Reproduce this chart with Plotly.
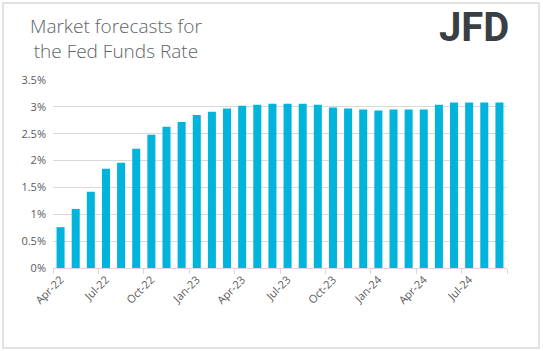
import plotly.graph_objects as go

months = ["Apr-22","May-22","Jun-22","Jul-22","Aug-22","Sep-22","Oct-22","Nov-22","Dec-22",
          "Jan-23","Feb-23","Mar-23","Apr-23","May-23","Jun-23","Jul-23","Aug-23","Sep-23",
          "Oct-23","Nov-23","Dec-23","Jan-24","Feb-24","Mar-24","Apr-24","May-24","Jun-24",
          "Jul-24","Aug-24","Sep-24"]
rates = [0.76, 1.10, 1.42, 1.85, 1.96, 2.22, 2.48, 2.63, 2.72, 2.85, 2.91, 2.97, 3.02, 3.04,
         3.06, 3.06, 3.06, 3.04, 2.99, 2.97, 2.95, 2.93, 2.95, 2.95, 2.95, 3.04, 3.08, 3.08,
         3.08, 3.08]
y_ticks = [0, 0.5, 1, 1.5, 2, 2.5, 3, 3.5]
y_tick_text = ["0%", "0.5%", "1%", "1.5%", "2%", "2.5%", "3%", "3.5%"]

idx = list(range(len(months)))
label_idx = idx[::3]

fig = go.Figure()
fig.add_trace(go.Bar(x=idx, y=rates, marker=dict(color="#00B4DC", line=dict(width=0)),
                     width=0.53, hoverinfo="skip"))
fig.add_trace(go.Scatter(x=[idx[0]], y=[0], xaxis="x2", mode="markers",
                         marker=dict(opacity=0), showlegend=False, hoverinfo="skip"))

fig.update_layout(
    width=543, height=351,
    margin=dict(l=53, r=36, t=80, b=83),
    plot_bgcolor="white", paper_bgcolor="white",
    showlegend=False,
    font=dict(family="Open Sans", color="#595959"),
    xaxis=dict(range=[-0.5, len(months) - 0.5], tickvals=[idx[i] for i in label_idx],
               ticktext=[months[i] for i in label_idx], tickangle=-45,
               tickfont=dict(size=11, color="#595959"),
               showgrid=False, zeroline=False, showline=True, linecolor="#d9d9d9",
               linewidth=1, ticks="", fixedrange=True),
    xaxis2=dict(range=[-0.5, len(months) - 0.5], overlaying="x", side="bottom",
                tickvals=[i - 0.5 for i in label_idx] + [len(months) - 0.5],
                showticklabels=False, ticks="outside", ticklen=5, tickcolor="#d9d9d9",
                showgrid=False, zeroline=False, showline=False, anchor="y"),
    yaxis=dict(range=[0, 3.5], tickvals=y_ticks, ticktext=y_tick_text,
               tickfont=dict(size=11, color="#595959"),
               showgrid=True, gridcolor="#d9d9d9", gridwidth=1, zeroline=False,
               showline=False, ticks="", ticklabelstandoff=6),
    bargap=0.47,
)

fig.add_shape(type="rect", xref="paper", yref="paper",
              x0=(3 - 53) / 454, x1=(539 - 53) / 454,
              y0=-(348 - 268) / 188, y1=(268 - 3) / 188,
              line=dict(color="#d9d9d9", width=1.5), fillcolor="rgba(0,0,0,0)", layer="below")

fig.add_annotation(text="Market forecasts for<br>the Fed Funds Rate", xref="paper", yref="paper",
                   x=(116 - 53) / 454, y=(268 - 11) / 188, xanchor="center", yanchor="top",
                   align="center", showarrow=False,
                   font=dict(family="Open Sans", size=19, color="#606469", weight=300))
fig.add_annotation(text="<b>JFD</b>", xref="paper", yref="paper",
                   x=(474 - 53) / 454, y=(268 - 27) / 188, xanchor="center", yanchor="middle",
                   showarrow=False,
                   font=dict(family="Roboto", size=40, color="#3a3f44"))

fig.write_html("out.html")
